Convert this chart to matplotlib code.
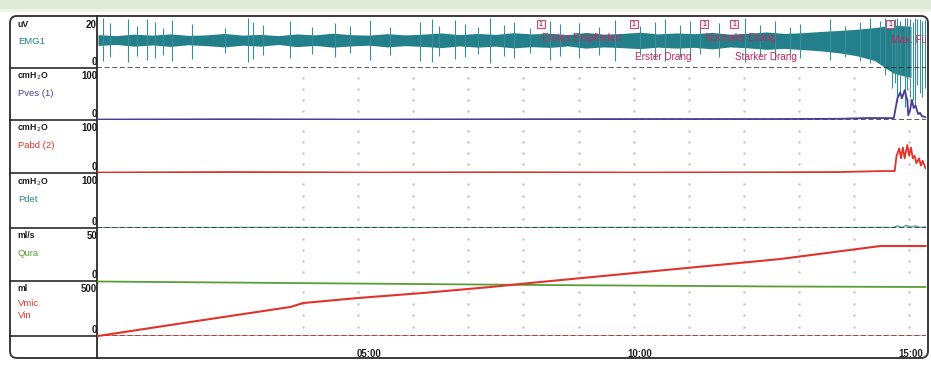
import numpy as np
import matplotlib
matplotlib.use("Agg")
import matplotlib.pyplot as plt
import matplotlib.transforms as mtransforms
from matplotlib.patches import FancyBboxPatch, Rectangle

plt.rcParams['font.family'] = ['Liberation Sans', 'DejaVu Sans']

# ---------------- data ----------------
# time in seconds
emg_env_t = np.arange(0, 901, 20)
emg_upper = [13.6, 13.2, 13.8, 13.4, 13.9, 13.3, 13.5, 14.1, 13.4, 13.7, 13.2, 13.9, 13.5, 14.2, 13.6,
             13.4, 14.0, 13.5, 13.8, 14.3, 13.6, 14.1, 13.7, 14.4, 13.9, 14.2, 13.6, 14.5, 13.8, 14.1,
             14.6, 13.9, 14.3, 14.0, 14.5, 13.8, 14.2, 14.7, 14.1, 14.4, 14.9, 15.3, 15.8, 16.5, 17.5, 17.0]
emg_lower = [9.2, 9.6, 8.9, 9.4, 8.8, 9.5, 9.1, 8.6, 9.3, 8.9, 9.6, 8.7, 9.2, 8.5, 9.0,
             9.3, 8.6, 9.1, 8.8, 8.3, 9.0, 8.5, 8.9, 8.2, 8.7, 8.4, 9.0, 8.1, 8.6, 8.3,
             7.9, 8.5, 8.1, 8.4, 7.8, 8.6, 8.2, 7.6, 8.0, 7.5, 7.0, 6.2, 5.0, 3.0, -2.0, -4.0]
# (time, top, bottom) of EMG spikes
emg_spikes = [(6, 20.3, 3.0), (13, 18.5, 4.5), (33, 19.8, 2.5), (43, 17.2, 5.0), (54, 20.1, 3.2),
              (63, 18.9, 4.0), (72, 16.5, 5.5), (82, 19.6, 2.8), (104, 17.8, 3.5), (141, 16.2, 6.0),
              (166, 20.2, 2.4), (172, 18.7, 3.8), (183, 17.5, 5.2), (213, 19.1, 4.2), (237, 16.8, 5.8),
              (262, 18.2, 4.6), (279, 17.0, 6.2), (301, 19.4, 3.4), (323, 16.6, 5.4), (356, 18.9, 3.0),
              (370, 20.0, 2.6), (378, 17.3, 4.8), (395, 19.5, 3.6), (406, 18.1, 4.4), (421, 16.9, 5.6),
              (434, 20.3, 2.2), (450, 17.7, 4.9), (461, 18.8, 3.9), (478, 16.4, 6.1), (500, 19.2, 3.3),
              (511, 17.9, 4.7), (533, 18.4, 4.1), (555, 16.7, 5.3), (572, 19.7, 2.9), (600, 17.1, 5.1),
              (617, 18.6, 3.7), (628, 20.1, 2.7), (644, 17.4, 4.6), (655, 19.0, 3.5), (666, 16.3, 5.9),
              (688, 18.3, 4.3), (716, 20.2, 2.5), (733, 17.6, 4.8), (749, 19.3, 3.4), (766, 16.8, 5.7),
              (777, 18.0, 4.2), (810, 19.9, 3.1), (827, 17.2, 4.4), (844, 18.7, 3.0), (855, 20.4, 2.0),
              (866, 19.1, 1.5), (871, 20.3, -3.0), (879, 19.6, -8.0), (882, 20.1, -6.0), (885, 20.4, -14.0),
              (888, 19.0, -11.0), (893, 20.2, -16.0), (896, 20.3, -9.0), (899, 19.8, -12.0),
              (902, 18.8, -13.0), (904, 20.4, -15.0), (907, 20.1, -7.0), (910, 20.0, -10.0),
              (912, 19.3, -12.0), (915, 19.5, -8.0)]

pves_t = [0, 150, 300, 450, 600, 750, 821, 850, 881, 885, 888, 890, 893, 896, 897, 899, 901, 903, 905, 908, 910, 912, 916]
pves_v = [1, 1.5, 1, 1.5, 2, 2, 2.5, 4, 4, 45, 57, 45, 62, 40, 10, 20, 42, 25, 30, 12, 15, 8, 6]

pabd_t = [0, 150, 300, 450, 600, 750, 821, 870, 882, 884, 887, 889, 891, 893, 896, 898, 900, 902, 904, 906, 909, 911, 913, 916]
pabd_v = [1, 2, 1, 1.5, 1, 1.5, 2, 4, 4, 35, 50, 30, 52, 30, 57, 35, 52, 30, 35, 20, 30, 15, 25, 10]

pdet_t = [0, 200, 400, 600, 800, 870, 880, 885, 890, 895, 900, 905, 910, 916]
pdet_v = [0.5, 1, 0.5, 1, 0.5, 1, 0.5, 4, 1, 5, 2, 4, 1, 2]

qura_t = [0, 489, 755, 916]
qura_v = [-0.5, -4, -5.5, -6]

vin_t = [0, 102, 213, 227, 287, 360, 434, 489, 755, 866, 916]
vin_v = [0, 132, 274, 311, 358, 406, 462, 509, 726, 849, 849]

vmic_t = [0, 916]
vmic_v = [0, -2]

event_t = [490, 593, 671, 704, 877]
event_labels = ["Erstes Empfinden", "Erster Drang", "Normaler Drang", "Starker Drang", "Max. Füllung"]
event_level = [0.585, 0.22, 0.585, 0.22, 0.55]

time_ticks = [300, 600, 900]
time_labels = ["05:00", "10:00", "15:00"]

# ---------------- layout ----------------
W, H = 931, 367
fig = plt.figure(figsize=(W / 100, H / 100), dpi=100)
fig.patch.set_facecolor('white')

bg = fig.add_axes([0, 0, 1, 1], zorder=0)
bg.set_xlim(0, W)
bg.set_ylim(H, 0)
bg.axis('off')

# top greenish tint
bg.add_patch(Rectangle((0, 0), W, 9, color='#dfebd8', lw=0))
bg.add_patch(Rectangle((0, 9), W, 3, color='#eef4ea', lw=0))

# border
bg.add_patch(FancyBboxPatch((10, 16), 918, 342, boxstyle="round,pad=0,rounding_size=7",
                            fill=False, ec='#3a3a3a', lw=1.4))
bg.plot([97, 97], [16, 358], color='#2a2a2a', lw=1.3)

X_LEFT, X_RIGHT = 97, 926
PX_PER_S = 0.9033
T0_PX = 98
xlim = ((X_LEFT - T0_PX) / PX_PER_S, (X_RIGHT - T0_PX) / PX_PER_S)

panels = [
    ("uV", "20", 17, 68, 20.8, [("EMG1", '#1f8088')]),
    ("cmH$_2$O", "100", 68, 120, 108, [("Pves (1)", '#4a3a9a')]),
    ("cmH$_2$O", "100", 120, 173, 108, [("Pabd (2)", '#e2332b')]),
    ("cmH$_2$O", "100", 173, 228, 110, [("Pdet", '#2a8c8c')]),
    ("ml/s", "50", 228, 281, 53, [("Qura", '#5a9e36')]),
    ("ml", "500", 281, 336, 519, [("Vmic", '#e2332b'), ("Vin", '#e2332b')]),
]

axes = []
for unit, toplab, yt, yb, ymax, names in panels:
    ax = fig.add_axes([X_LEFT / W, 1 - yb / H, (X_RIGHT - X_LEFT) / W, (yb - yt) / H], zorder=2)
    ax.set_xlim(*xlim)
    ax.set_ylim(0, ymax)
    ax.patch.set_alpha(0)
    for s in ax.spines.values():
        s.set_visible(False)
    ax.set_xticks([])
    ax.set_yticks([])
    axes.append(ax)
    bg.plot([10, 97], [yb, yb], color='#2a2a2a', lw=1.2)
    bg.text(17, yt + 3, unit, fontsize=6.3, fontweight='bold', color='#1a1a1a', va='top', ha='left')
    bg.text(97, yt + 3, toplab, fontsize=7, fontweight='bold', color='#1a1a1a', va='top', ha='right')
    bg.text(97, yb - 1, "0", fontsize=7, fontweight='bold', color='#1a1a1a', va='bottom', ha='right')
    for i, (nm, col) in enumerate(names):
        ypos = (yt + yb) / 2 - 1 if len(names) == 1 else yt + 22 + i * 13
        bg.text(18, ypos, nm, fontsize=6.8, color=col, va='center', ha='left')

# dotted grid
grid_cols = np.arange(227, 916, 61)
grid_fracs = [0.17, 0.38, 0.59, 0.80]
for ax in axes[1:]:
    trans = mtransforms.blended_transform_factory(ax.transData, ax.transAxes)
    for f in grid_fracs:
        ax.plot(grid_cols, [f] * len(grid_cols), ls='none', marker='s', ms=0.8,
                color='#cccccc', transform=trans, zorder=1)

dash = dict(color='#2b2b2b', lw=1.1, ls=(0, (3.2, 1.8)), zorder=3)

# EMG
ax = axes[0]
ax.axhline(0, **dash)
ax.fill_between(emg_env_t, emg_lower, emg_upper, color='#23808a', lw=0, zorder=2, clip_on=False)
st = [s[0] for s in emg_spikes]
stop = [s[1] for s in emg_spikes]
sbot = [s[2] for s in emg_spikes]
ax.vlines(st, sbot, stop, color='#3a8f98', lw=0.8, zorder=2, clip_on=False)

# events
trans = mtransforms.blended_transform_factory(ax.transData, ax.transAxes)
for t, lab, lev in zip(event_t, event_labels, event_level):
    ax.add_patch(Rectangle((t - 4.5, 0.78), 9, 0.16, transform=trans, fc='#fbeef3',
                           ec='#c0507c', lw=0.8, zorder=5))
    ax.text(t, 0.86, "1", transform=trans, fontsize=5, color='#602040', ha='center',
            va='center', zorder=6)
    ax.text(t + 1, lev, lab, transform=trans, fontsize=7.2, color='#c02a5e', ha='left',
            va='center', zorder=6, clip_on=True)

# Pves
ax = axes[1]
ax.axhline(0, **dash)
ax.plot(pves_t, pves_v, color='#4a3a9a', lw=1.3, zorder=4)

# Pabd
ax = axes[2]
ax.plot(pabd_t, pabd_v, color='#e2332b', lw=1.3, zorder=2)
ax.axhline(0, color='#2b2b2b', lw=0.8, ls=(0, (3.2, 1.8)), zorder=3, alpha=0.6)

# Pdet
ax = axes[3]
ax.plot(pdet_t, pdet_v, color='#5aa7a7', lw=1.1, zorder=2)
ax.axhline(0, **dash)

# Qura
ax = axes[4]
ax.plot(qura_t, qura_v, color='#5a9e36', lw=1.3, zorder=4, clip_on=False)

# Vmic / Vin
ax = axes[5]
ax.axhline(0, **dash)
ax.plot(vmic_t, vmic_v, color='#e2332b', lw=1.0, zorder=4, alpha=0.8)
ax.plot(vin_t, vin_v, color='#e2332b', lw=1.5, zorder=4, clip_on=False)

# time strip
axs = fig.add_axes([X_LEFT / W, 1 - 358 / H, (X_RIGHT - X_LEFT) / W, (358 - 336) / H], zorder=2)
axs.set_xlim(*xlim)
axs.set_ylim(0, 1)
axs.patch.set_alpha(0)
axs.axis('off')
for t, lab in zip(time_ticks, time_labels):
    axs.text(t, 0.2, lab, fontsize=7, fontweight='bold', color='#222222', ha='center',
             va='center', clip_on=True)

fig.savefig("out.png", dpi=100, facecolor='white')
